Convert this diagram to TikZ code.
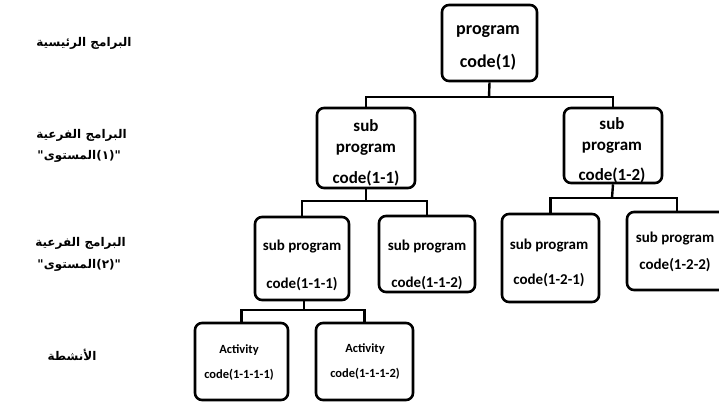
\documentclass[tikz,border=0pt]{standalone}
\usepackage{fontspec}
\setmainfont{Carlito}
\newfontfamily\arabicfont[Script=Arabic]{DejaVu Sans}
\newfontfamily\plainsans{DejaVu Sans}
\TeXXeTstate=1
\newcommand{\rtl}[1]{\hbox{\beginR #1\endR}}
\begin{document}
\begin{tikzpicture}[x=1pt,y=-1pt,
  box/.style={draw, line width=2.6pt, rounded corners=7pt, inner sep=0pt},
  txt/.style={align=center, inner sep=0pt},
  conn/.style={line width=2.4pt},
  lbl/.style={font=\arabicfont\bfseries\fontsize{12}{20}\selectfont, inner sep=0pt},
  pun/.style={font=\plainsans\bfseries\fontsize{12}{20}\selectfont, inner sep=0pt, outer sep=0pt}]
\useasboundingbox (0,0) rectangle (719,403);
% boxes
\node[box, minimum width=95pt, minimum height=76pt] (top) at (489.5,43) {};
\node[box, minimum width=98pt, minimum height=80pt] (n11) at (366,148) {};
\node[box, minimum width=98pt, minimum height=75pt] (n12) at (613,145.5) {};
\node[box, minimum width=94pt, minimum height=83pt] (n111) at (302,258.5) {};
\node[box, minimum width=96pt, minimum height=76pt] (n112) at (427,254) {};
\node[box, minimum width=97pt, minimum height=88pt] (n121) at (550.5,258) {};
\node[box, minimum width=100pt, minimum height=78pt] (n122) at (677,251) {};
\node[box, minimum width=93pt, minimum height=77pt] (a1) at (241.5,361.5) {};
\node[box, minimum width=97pt, minimum height=77pt] (a2) at (364.5,361.5) {};
% texts
\node[txt, font=\bfseries\fontsize{18}{33}\selectfont] (ttop) at (488,47.5) {program\\code(1)};
\node[txt, font=\bfseries\fontsize{17}{21}\selectfont] (t11) at (366,153) {sub\\program\\[10pt]code(1-1)};
\node[txt, font=\bfseries\fontsize{17}{21}\selectfont] (t12) at (612,150) {sub\\program\\[9pt]code(1-2)};
\node[txt, font=\bfseries\fontsize{15}{38}\selectfont] (t111) at (302,265) {sub program\\code(1-1-1)};
\node[txt, font=\bfseries\fontsize{15}{37}\selectfont] (t112) at (427,264.5) {sub program\\code(1-1-2)};
\node[txt, font=\bfseries\fontsize{15}{35}\selectfont] (t121) at (549,263) {sub program\\code(1-2-1)};
\node[txt, font=\bfseries\fontsize{15}{27}\selectfont] (t122) at (675,252) {sub program\\code(1-2-2)};
\node[txt, font=\bfseries\fontsize{12.5}{25}\selectfont] (ta1) at (239,362.5) {Activity\\code(1-1-1-1)};
\node[txt, font=\bfseries\fontsize{12.5}{25}\selectfont] (ta2) at (365,362) {Activity\\code(1-1-1-2)};
% junctions
\coordinate (j1) at (489,97);
\coordinate (j2) at (366,201);
\coordinate (j3) at (612,198);
\coordinate (j4) at (304,310);
% connectors
\draw[conn] (top.south) -- (j1);
\draw[conn] (n11.north) |- (j1) -| (n12.north);
\draw[conn] (n11.south) -- (j2);
\draw[conn] (n111.north) |- (j2) -| (n112.north);
\draw[conn] (n12.south) -- (j3);
\draw[conn] (n121.north) |- (j3) -| (n122.north);
\draw[conn] (n111.south -| j4) -- (j4);
\draw[conn] (a1.north) |- (j4) -| (a2.north);
% level labels
\node[lbl] (l1) at (84,43) {\rtl{البرامج الرئيسية}};
\node[lbl] (l2a) at (81.5,135) {\rtl{البرامج الفرعية}};
\node[lbl, anchor=base] (l2w) at (70,160) {\rtl{المستوى}};
\node[pun, anchor=base east] (l2q) at (l2w.base west) {"};
\node[pun, anchor=base west] (l2n) at (l2w.base east) {(١)"};
\node[lbl] (l3a) at (80.5,243) {\rtl{البرامج الفرعية}};
\node[lbl, anchor=base] (l3w) at (70,268) {\rtl{المستوى}};
\node[pun, anchor=base east] (l3q) at (l3w.base west) {"};
\node[pun, anchor=base west] (l3n) at (l3w.base east) {(٢)"};
\node[lbl] (l4) at (72,355) {\rtl{الأنشطة}};
\end{tikzpicture}
\end{document}
